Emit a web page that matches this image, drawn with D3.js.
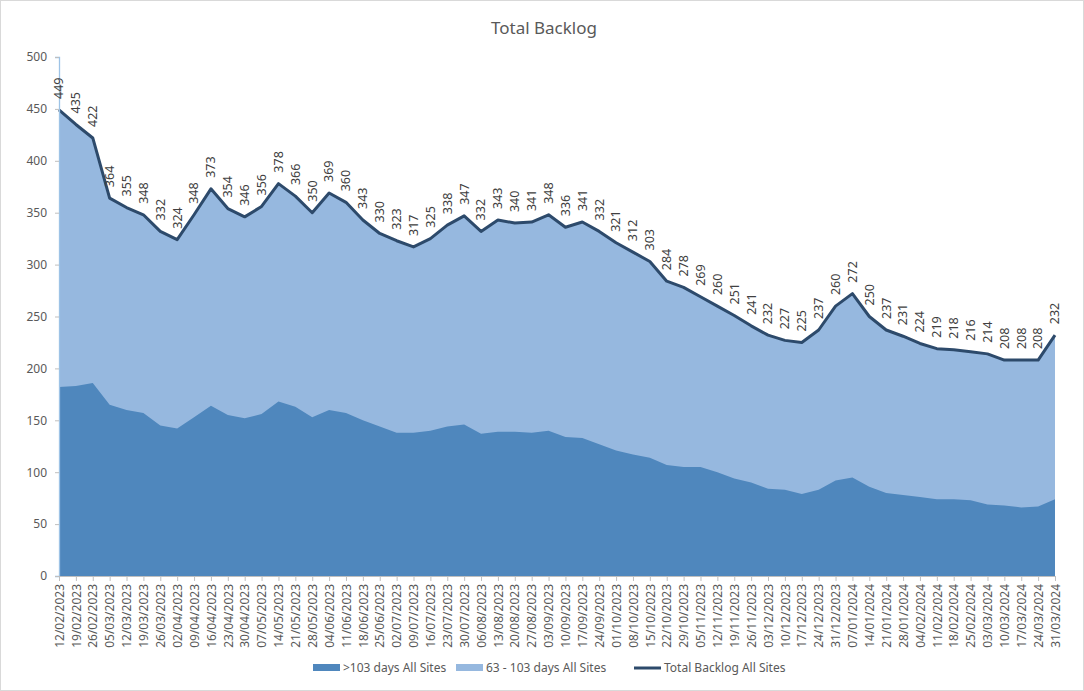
<!DOCTYPE html>
<html><head><meta charset="utf-8">
<script src="https://cdn.jsdelivr.net/npm/d3@7"></script>
<style>body{margin:0;background:#fff}svg{display:block;font-family:"Noto Sans",sans-serif}</style>
</head><body><svg id="c" width="1084" height="691"></svg>
<script>
const dates = ["12/02/2023","19/02/2023","26/02/2023","05/03/2023","12/03/2023","19/03/2023","26/03/2023","02/04/2023","09/04/2023","16/04/2023","23/04/2023","30/04/2023","07/05/2023","14/05/2023","21/05/2023","28/05/2023","04/06/2023","11/06/2023","18/06/2023","25/06/2023","02/07/2023","09/07/2023","16/07/2023","23/07/2023","30/07/2023","06/08/2023","13/08/2023","20/08/2023","27/08/2023","03/09/2023","10/09/2023","17/09/2023","24/09/2023","01/10/2023","08/10/2023","15/10/2023","22/10/2023","29/10/2023","05/11/2023","12/11/2023","19/11/2023","26/11/2023","03/12/2023","10/12/2023","17/12/2023","24/12/2023","31/12/2023","07/01/2024","14/01/2024","21/01/2024","28/01/2024","04/02/2024","11/02/2024","18/02/2024","25/02/2024","03/03/2024","10/03/2024","17/03/2024","24/03/2024","31/03/2024"];
const over103 = [182,183,186,165,160,157,145,142,153,164,155,152,156,168,163,153,160,157,150,144,138,138,140,144,146,137,139,139,138,140,134,133,127,121,117,114,107,105,105,100,94,90,84,83,79,83,92,95,86,80,78,76,74,74,73,69,68,66,67,74];
const total = [449,435,422,364,355,348,332,324,348,373,354,346,356,378,366,350,369,360,343,330,323,317,325,338,347,332,343,340,341,348,336,341,332,321,312,303,284,278,269,260,251,241,232,227,225,237,260,272,250,237,231,224,219,218,216,214,208,208,208,232];
const yTicks = [0,50,100,150,200,250,300,350,400,450,500];
const seriesNames = [">103 days All Sites","63 - 103 days All Sites","Total Backlog All Sites"];
const colors = {dark:"#4f87bd", light:"#96b8df", line:"#2d4a6b"};

const svg = d3.select("#c");
svg.append("rect").attr("x",0.5).attr("y",0.5).attr("width",1083).attr("height",690).attr("fill","#fff").attr("stroke","#d9d9d9");

const x = d3.scalePoint().domain(dates).range([59,1055]);
const y = d3.scaleLinear().domain([0,500]).range([576,57]);

const rows = dates.map((d,i)=>({d, a:over103[i], t:total[i]}));

svg.append("path").datum(rows).attr("fill",colors.light)
  .attr("d", d3.area().x(r=>x(r.d)).y0(y(0)).y1(r=>y(r.t)));
svg.append("path").datum(rows).attr("fill",colors.dark)
  .attr("d", d3.area().x(r=>x(r.d)).y0(y(0)).y1(r=>y(r.a)));
svg.append("path").datum(rows).attr("fill","none").attr("stroke",colors.line).attr("stroke-width",3).attr("stroke-linejoin","round")
  .attr("d", d3.line().x(r=>x(r.d)).y(r=>y(r.t)));

// y axis
const ya = svg.append("g").attr("transform","translate(59,0)")
  .call(d3.axisLeft(y).tickValues(yTicks).tickSize(4).tickPadding(8));
ya.select(".domain").attr("stroke","#9dc3e6").attr("stroke-width",1.3);
ya.selectAll(".tick line").attr("stroke","#bfbfbf");
ya.selectAll("text").attr("fill","#595959").style("font-size","12px").style("font-family","Noto Sans");

// x axis
const xa = svg.append("g").attr("transform","translate(0,576)")
  .call(d3.axisBottom(x).tickSize(5).tickSizeOuter(0));
xa.select(".domain").attr("stroke","#bfbfbf");
xa.selectAll(".tick line").attr("stroke","#bfbfbf");
xa.selectAll("text").attr("fill","#595959").style("font-size","12px").style("font-family","Noto Sans")
  .attr("transform","rotate(-90)").attr("text-anchor","end").attr("x",-8).attr("y",0).attr("dy","0.35em");

// data labels
svg.append("g").selectAll("text").data(rows).join("text")
  .attr("transform", r=>`translate(${x(r.d)},${y(r.t)-11}) rotate(-90)`)
  .attr("text-anchor","start").attr("dy","0.35em")
  .attr("fill","#404040").style("font-size","12.5px").text(r=>r.t);

// title
svg.append("text").attr("x",544).attr("y",34).attr("text-anchor","middle")
  .attr("fill","#595959").style("font-size","17px").text("Total Backlog");

// legend
const lg = svg.append("g");
lg.append("rect").attr("x",313).attr("y",664).attr("width",27).attr("height",7).attr("fill",colors.dark);
lg.append("text").attr("x",343).attr("y",672).attr("fill","#595959").style("font-size","12px").text(seriesNames[0]);
lg.append("rect").attr("x",456).attr("y",664).attr("width",27).attr("height",7).attr("fill",colors.light);
lg.append("text").attr("x",486).attr("y",672).attr("fill","#595959").style("font-size","12px").text(seriesNames[1]);
lg.append("line").attr("x1",634).attr("x2",661).attr("y1",668).attr("y2",668).attr("stroke",colors.line).attr("stroke-width",3);
lg.append("text").attr("x",664).attr("y",672).attr("fill","#595959").style("font-size","12px").text(seriesNames[2]);
</script></body></html>
